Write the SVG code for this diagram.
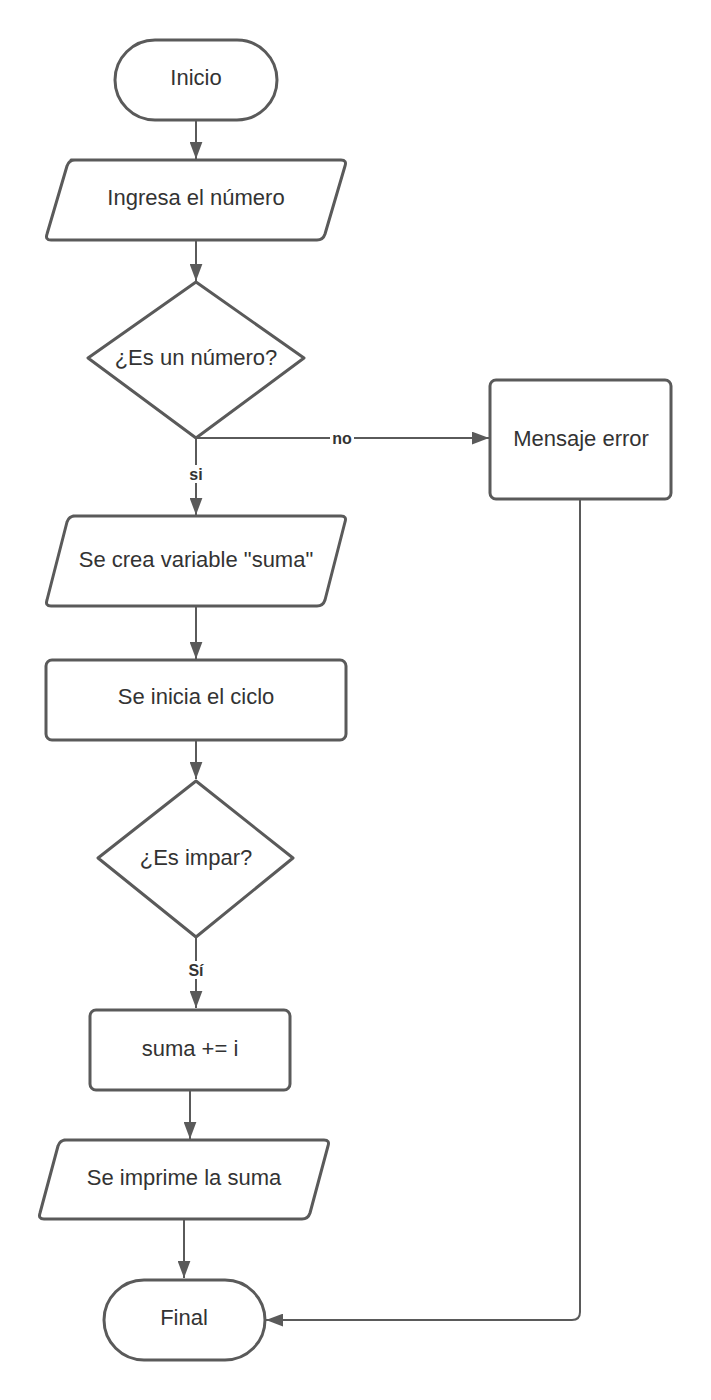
<svg xmlns="http://www.w3.org/2000/svg" width="711" height="1400" viewBox="0 0 711 1400">
<style>
.s{fill:#fff;stroke:#5a5a5a;stroke-width:3;stroke-linejoin:round}
.t{font-family:"Liberation Sans",Arial,sans-serif;font-size:22px;fill:#333;text-anchor:middle;dominant-baseline:central}
.c{fill:none;stroke:#5a5a5a;stroke-width:2}
.l{font-family:"Liberation Sans",Arial,sans-serif;font-size:16px;font-weight:bold;fill:#333;text-anchor:middle;dominant-baseline:central}
</style>
<defs>
<marker id="a" viewBox="0 0 16 12" refX="16" refY="6" markerWidth="17" markerHeight="13" markerUnits="userSpaceOnUse" orient="auto">
<path d="M0,0 L16,6 L0,12 Z" fill="#5a5a5a"/>
</marker>
</defs>
<rect width="711" height="1400" fill="#fff"/>
<g id="connectors">
<path class="c" d="M196,121 V159" marker-end="url(#a)"/>
<path class="c" d="M196,241 V281" marker-end="url(#a)"/>
<path class="c" d="M196,438 H489" marker-end="url(#a)"/>
<path class="c" d="M196,438 V515" marker-end="url(#a)"/>
<path class="c" d="M196,607 V659" marker-end="url(#a)"/>
<path class="c" d="M196,741 V779" marker-end="url(#a)"/>
<path class="c" d="M196,937 V1008" marker-end="url(#a)"/>
<path class="c" d="M190,1091 V1139" marker-end="url(#a)"/>
<path class="c" d="M184,1220 V1278" marker-end="url(#a)"/>
<path class="c" d="M580,500 V1312 Q580,1320 572,1320 H266" marker-end="url(#a)"/>
<rect x="330" y="429" width="24" height="18" fill="#fff"/>
<text class="l" x="342" y="438">no</text>
<rect x="184" y="465" width="24" height="18" fill="#fff"/>
<text class="l" x="196" y="474">si</text>
<rect x="184" y="961" width="24" height="18" fill="#fff"/>
<text class="l" x="196" y="970">Sí</text>
</g>
<g id="inicio">
<rect class="s" x="115" y="40" width="162" height="80" rx="40"/>
<text class="t" x="196" y="77">Inicio</text>
</g>
<g id="ingresa">
<path class="s" d="M71,160 H341 Q347,160 345,166 L325,234 Q323,240 317,240 H51 Q45,240 47,234 L67,166 Q69,160 75,160 Z"/>
<text class="t" x="196" y="197">Ingresa el número</text>
</g>
<g id="esnumero">
<path class="s" d="M196,282 L304,358 L196,438 L88,358 Z"/>
<text class="t" x="196" y="357">¿Es un número?</text>
</g>
<g id="mensaje">
<rect class="s" x="490" y="380" width="181" height="119" rx="6"/>
<text class="t" x="581" y="438">Mensaje error</text>
</g>
<g id="creavar">
<path class="s" d="M73,516 H341 Q347,516 345,522 L325,600 Q323,606 317,606 H51 Q45,606 47,600 L67,522 Q69,516 75,516 Z"/>
<text class="t" x="196" y="559">Se crea variable "suma"</text>
</g>
<g id="ciclo">
<rect class="s" x="46" y="660" width="300" height="80" rx="6"/>
<text class="t" x="196" y="696">Se inicia el ciclo</text>
</g>
<g id="esimpar">
<path class="s" d="M196,781 L293,858 L196,937 L98,858 Z"/>
<text class="t" x="196" y="857">¿Es impar?</text>
</g>
<g id="suma">
<rect class="s" x="90" y="1010" width="200" height="80" rx="6"/>
<text class="t" x="190" y="1048">suma += i</text>
</g>
<g id="imprime">
<path class="s" d="M64,1140 H324 Q330,1140 328,1146 L310,1213 Q308,1219 302,1219 H44 Q38,1219 40,1213 L58,1146 Q60,1140 66,1140 Z"/>
<text class="t" x="184" y="1177">Se imprime la suma</text>
</g>
<g id="final">
<rect class="s" x="104" y="1280" width="161" height="80" rx="40"/>
<text class="t" x="184" y="1317">Final</text>
</g>
</svg>
